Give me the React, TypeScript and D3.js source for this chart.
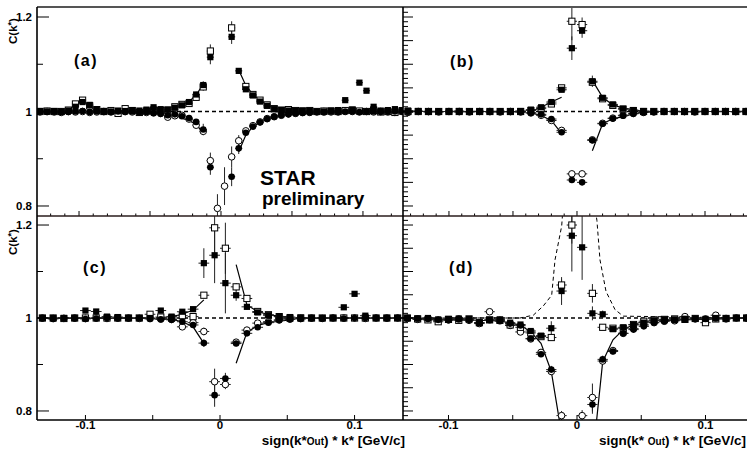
import React from "react";
import * as d3 from "d3";

const FONT = "'Liberation Sans', Arial, Helvetica, sans-serif";

// bin centres: panel (a) uses 5 MeV bins, the other panels 8 MeV bins
const fineBins = [
  -0.1275, -0.1225, -0.1175, -0.1125, -0.1075, -0.1025, -0.0975, -0.0925, -0.0875, -0.0825,
  -0.0775, -0.0725, -0.0675, -0.0625, -0.0575, -0.0525, -0.0475, -0.0425, -0.0375, -0.0325,
  -0.0275, -0.0225, -0.0175, -0.0125, -0.0075, -0.0025, 0.0025, 0.0075, 0.0125, 0.0175,
  0.0225, 0.0275, 0.0325, 0.0375, 0.0425, 0.0475, 0.0525, 0.0575, 0.0625, 0.0675,
  0.0725, 0.0775, 0.0825, 0.0875, 0.0925, 0.0975, 0.1025, 0.1075, 0.1125, 0.1175,
  0.1225, 0.1275,
];
const wideBins = [
  -0.132, -0.124, -0.116, -0.108, -0.1, -0.092, -0.084, -0.076, -0.068, -0.06,
  -0.052, -0.044, -0.036, -0.028, -0.02, -0.012, -0.004, 0.004, 0.012, 0.02,
  0.028, 0.036, 0.044, 0.052, 0.06, 0.068, 0.076, 0.084, 0.092, 0.1,
  0.108, 0.116, 0.124, 0.132,
];

const yTickLabels = [0.8, 1, 1.2];
const xTickLabels = [-0.1, 0, 0.1];

// ---- panel (a) ----
const aSqFilled = [
  1.001, 1.0, 1.001, 1.0, 1.002, 1.01, 1.02, 1.014, 1.003, 1.001,
  1.0, 1.002, 1.001, 1.003, 1.002, 1.004, 1.009, 1.005, 1.004, 1.008,
  1.013, 1.02, 1.036, 1.056, 1.115, null, null, 1.158, 1.086, 1.047,
  1.034, 1.021, 1.012, 1.005, 1.003, 1.002, 1.001, 1.002, 1.001, 1.0,
  1.0, 1.002, 1.003, 1.024, 1.004, 1.061, 1.044, 1.01, 1.002, 1.003,
  1.005, 1.003,
];
const aSqOpen = [
  1.0, 1.001, 1.0, 1.0, 1.003, 1.016, 1.024, 1.012, 1.004, 1.0,
  1.002, 0.996, 1.006, 1.002, 0.998, 1.001, 1.003, 1.002, 1.003, 1.01,
  1.015, 1.017, 1.03, 1.052, 1.128, null, null, 1.177, null, 1.053,
  1.036, 1.024, 1.014, 1.006, 1.003, 1.004, 1.002, 1.001, 1.002, 1.0,
  1.001, 1.001, 1.0, 1.002, 1.003, 1.001, 1.0, 1.002, 0.999, 1.0,
  0.998, 1.001,
];
const aCircFilled = [
  1.0, 0.999, 1.0, 0.999, 0.999, 1.0, 1.001, 0.999, 1.0, 0.999,
  0.999, 1.0, 0.999, 1.0, 0.998, 0.999, 0.997, 0.995, 0.992, 0.994,
  0.99, 0.986, 0.978, 0.962, 0.882, null, null, 0.862, 0.922, 0.955,
  0.968, 0.977, 0.984, 0.989, 0.992, 0.994, 0.996, 0.997, 0.998, 0.999,
  0.998, 1.0, 0.999, 1.0, 1.0, 0.999, 1.0, 1.0, 0.999, 1.0,
  1.0, 1.0,
];
const aCircOpen = [
  0.999, 1.0, 0.999, 0.998, 1.0, 0.999, 1.0, 0.998, 0.999, 1.0,
  0.999, 0.998, 1.0, 0.999, 0.999, 0.998, 0.997, 0.996, 0.988, 0.991,
  0.992, 0.984, 0.971, 0.958, 0.896, 0.795, 0.842, 0.904, 0.938, 0.959,
  0.97, 0.978, 0.985, 0.989, 0.992, 0.995, 0.996, 0.998, 0.998, 0.999,
  1.0, 0.999, 0.999, 1.0, 1.0, 0.999, 1.0, 0.999, 1.0, 0.999,
  0.998, 1.0,
];
// errors for bins 18..33
const aSqFilledErr = [0.003, 0.004, 0.004, 0.005, 0.006, 0.008, 0.015, 0, 0, 0.015, 0.006, 0.005, 0.004, 0.004, 0.003, 0.003];
const aSqOpenErr = [0.003, 0.004, 0.004, 0.005, 0.006, 0.008, 0.014, 0, 0, 0.014, 0, 0.005, 0.004, 0.004, 0.003, 0.003];
const aCircFilledErr = [0.003, 0.004, 0.004, 0.005, 0.006, 0.012, 0.016, 0, 0, 0.02, 0.012, 0.006, 0.005, 0.004, 0.003, 0.003];
const aCircOpenErr = [0.003, 0.004, 0.004, 0.005, 0.006, 0.008, 0.017, 0.03, 0.04, 0.022, 0.012, 0.006, 0.005, 0.004, 0.003, 0.003];
const aFitUpL = [[-0.0325, 1.008], [-0.0275, 1.014], [-0.0225, 1.021], [-0.0175, 1.035], [-0.0125, 1.058]];
const aFitUpR = [[0.0125, 1.088], [0.0175, 1.055], [0.0225, 1.036], [0.0275, 1.024], [0.0325, 1.015], [0.0375, 1.007], [0.0425, 1.004]];
const aFitLoL = [[-0.0325, 0.9926], [-0.0275, 0.9856], [-0.0225, 0.9805], [-0.0175, 0.973], [-0.0125, 0.954]];
const aFitLoR = [[0.0125, 0.915], [0.0175, 0.95], [0.0225, 0.968], [0.0275, 0.978], [0.0325, 0.9856], [0.0375, 0.99], [0.0425, 0.992]];

// ---- panel (b) ----
const bSqFilled = [
  1.002, 1.001, 1.0, 1.0, 1.0, 1.001, 1.0, 1.0, 1.0, 1.0,
  1.0, 1.001, 1.004, 1.009, 1.02, 1.046, 1.134, 1.171, 1.064, 1.029,
  1.015, 1.006, 1.003, 1.001, 1.0, 1.0, 1.0, 1.0, 1.0, 1.0,
  1.0, 1.0, 1.0, 1.0,
];
const bSqOpen = [
  1.0, 1.0, 1.0, 1.0, 1.0, 1.0, 1.0, 1.0, 1.0, 1.0,
  1.0, 1.0, 1.002, 1.006, 1.016, 1.05, 1.191, 1.184, 1.062, 1.027,
  1.013, 1.005, 1.002, 1.0, 1.0, 1.0, 1.0, 1.0, 1.0, 1.0,
  1.0, 1.0, 1.0, 1.0,
];
const bCircFilled = [
  1.0, 1.0, 0.999, 1.0, 1.0, 0.999, 1.0, 1.0, 0.999, 1.0,
  0.999, 0.999, 0.997, 0.994, 0.984, 0.956, 0.855, 0.85, 0.939, 0.974,
  0.985, 0.991, 0.995, 0.998, 0.999, 1.0, 1.0, 0.999, 1.0, 1.0,
  1.0, 1.0, 0.999, 1.0,
];
const bCircOpen = [
  0.998, 1.0, 1.0, 0.999, 1.0, 1.0, 0.999, 1.0, 1.0, 0.999,
  1.0, 0.999, 0.997, 0.992, 0.981, 0.96, 0.868, 0.868, 0.94, 0.975,
  0.986, 0.992, 0.996, 0.998, 0.999, 1.0, 1.0, 1.0, 0.999, 1.0,
  1.0, 1.0, 1.0, 1.0,
];
// errors for bins 12..21
const bSqFilledErr = [0.003, 0.003, 0.004, 0.005, 0.025, 0.015, 0.012, 0.005, 0.004, 0.003];
const bSqOpenErr = [0.003, 0.003, 0.004, 0.005, 0.04, 0.015, 0.006, 0.004, 0.003, 0.003];
const bCircFilledErr = [0.003, 0.003, 0.004, 0.006, 0.006, 0.006, 0.006, 0.004, 0.003, 0.003];
const bCircOpenErr = [0.003, 0.003, 0.004, 0.005, 0.006, 0.006, 0.005, 0.004, 0.003, 0.003];
const bFitUpL = [[-0.036, 1.0], [-0.028, 1.009], [-0.02, 1.02], [-0.012, 1.03]];
const bFitUpR = [[0.012, 1.066], [0.02, 1.03], [0.028, 1.014], [0.036, 1.007], [0.044, 1.004], [0.052, 1.0]];
const bFitLoL = [[-0.036, 0.997], [-0.028, 0.9915], [-0.02, 0.981], [-0.012, 0.953]];
const bFitLoR = [[0.012, 0.917], [0.02, 0.974], [0.028, 0.9845], [0.036, 0.989], [0.044, 0.995], [0.052, 0.998]];

// ---- panel (c) ----
const cSqFilled = [
  1.0, 1.0, 1.0, 1.0, 1.016, 1.014, 1.003, 1.002, 1.0, 1.0,
  1.0, 1.016, 1.003, 1.0135, 1.019, 1.118, 1.135, 1.075, 1.049, 1.024,
  1.012, 1.006, 1.003, 1.002, 1.001, 1.0, 1.0, 1.0, 1.023, 1.052,
  1.005, 1.0, 1.0, 1.0,
];
const cSqOpen = [
  1.0, 1.0, 0.999, 1.0, 1.0, 1.0, 1.0, 1.0, 1.0, 1.0,
  1.008, 1.002, 1.0, 1.005, 1.003, 1.049, 1.194, 1.15, 1.067, 1.042,
  1.014, 1.007, 1.003, 1.0, 1.0, 1.0, 1.0, 1.0, 1.0, 1.0,
  1.0, 1.0, 1.0, 1.0,
];
const cCircFilled = [
  0.999, 0.998, 1.0, 0.999, 0.998, 0.999, 1.0, 0.999, 0.999, 1.0,
  0.998, 0.997, 0.996, 0.992, 0.985, 0.946, 0.834, 0.87, 0.945, 0.967,
  0.98, 0.99, 0.995, 0.997, 0.998, 0.999, 0.999, 1.0, 0.999, 1.0,
  1.0, 1.0, 0.999, 1.0,
];
const cCircOpen = [
  1.0, 0.999, 0.999, 1.0, 0.999, 1.0, 0.999, 1.0, 1.0, 0.999,
  0.999, 0.998, 0.997, 0.981, 0.99, 0.971, 0.863, 0.857, 0.948, 0.974,
  0.989, 0.992, 0.996, 0.998, 0.999, 1.0, 0.999, 1.0, 1.0, 1.0,
  0.999, 1.0, 1.0, 1.0,
];
const cSqFilledErr = [0.003, 0.004, 0.005, 0.032, 0.06, 0.065, 0.012, 0.006, 0.004, 0.003];
const cSqOpenErr = [0.003, 0.004, 0.005, 0.006, 0.07, 0.055, 0.008, 0.005, 0.004, 0.003];
const cCircFilledErr = [0.003, 0.004, 0.005, 0.008, 0.025, 0.012, 0.006, 0.005, 0.004, 0.003];
const cCircOpenErr = [0.003, 0.004, 0.005, 0.008, 0.028, 0.01, 0.006, 0.005, 0.004, 0.003];
const cFitUpL = [[-0.036, 1.003], [-0.028, 1.008], [-0.02, 1.017], [-0.012, 1.039]];
const cFitUpR = [[0.012, 1.115], [0.02, 1.028], [0.028, 1.014], [0.036, 1.007], [0.044, 1.004], [0.052, 1.002]];
const cFitLoL = [[-0.036, 0.997], [-0.028, 0.992], [-0.02, 0.981], [-0.012, 0.9455]];
const cFitLoR = [[0.012, 0.9026], [0.02, 0.969], [0.028, 0.984], [0.036, 0.99], [0.044, 0.993], [0.052, 0.996]];

// ---- panel (d) ----
const dSqFilled = [
  1.0, 0.999, 1.0, 0.997, 0.998, 0.999, 0.998, 0.989, 0.996, 0.997,
  0.99, 0.986, 0.972, 0.962, 0.978, 1.058, 1.177, 1.152, 1.01, 1.008,
  0.976, 0.98, 0.985, 0.99, 0.995, 0.997, 0.997, 0.998, 0.999, 0.998,
  1.0, 0.999, 1.0, 1.0,
];
const dSqOpen = [
  1.0, 0.998, 0.996, 0.992, 0.997, 0.995, 0.998, 0.99, 0.996, 0.995,
  0.985, 0.98, 0.968, 0.96, 0.958, 1.071, 1.2, null, 1.053, 0.98,
  0.978, 0.978, 0.986, 0.993, 0.996, 0.997, 0.998, 0.997, 0.999, 0.99,
  0.998, 0.999, 1.0, 1.0,
];
const dCircFilled = [
  1.0, 0.999, 0.998, 0.996, 0.995, 0.997, 0.996, 0.99, 0.995, 0.993,
  0.988, 0.984, 0.956, 0.922, 0.889, null, null, null, 0.814, 0.911,
  0.928, 0.967, 0.975, 0.982, 0.99, 0.993, 0.995, 0.997, 0.998, 0.998,
  0.999, 1.0, 1.0, 0.999,
];
const dCircOpen = [
  0.999, 0.997, 0.997, 0.995, 0.996, 0.998, 0.995, 0.988, 1.0135, 0.995,
  0.984, 0.97, 0.955, 0.926, 0.885, 0.79, null, 0.79, 0.829, 0.9075,
  0.93, 0.967, 0.977, 0.985, 0.99, 0.993, 0.994, 1.003, 0.998, 0.998,
  1.006, 0.998, 1.0, 1.0,
];
const dSqFilledErr = [0.004, 0.005, 0.015, 0.03, 0.077, 0.07, 0.015, 0.008, 0.005, 0.004];
const dSqOpenErr = [0.004, 0.005, 0.006, 0.012, 0.04, 0, 0.02, 0.006, 0.005, 0.004];
const dCircFilledErr = [0.004, 0.006, 0.008, 0, 0, 0, 0.02, 0.008, 0.006, 0.005];
const dCircOpenErr = [0.004, 0.006, 0.008, 0.01, 0, 0.012, 0.03, 0.008, 0.006, 0.005];
const dFitSolid = [
  [-0.132, 1.0], [-0.06, 0.9935], [-0.044, 0.985], [-0.036, 0.97], [-0.028, 0.9455],
  [-0.02, 0.885], [-0.012, 0.751], [0.012, 0.693], [0.02, 0.906], [0.028, 0.953],
  [0.036, 0.975], [0.044, 0.986], [0.052, 0.993], [0.132, 1.0],
];
const dFitDashed = [
  [-0.132, 1.0], [-0.0444, 1.0], [-0.034, 1.006], [-0.0262, 1.026], [-0.0197, 1.049],
  [-0.0171, 1.125], [-0.0119, 1.198], [-0.008, 1.35], [0.008, 1.35], [0.0155, 1.21],
  [0.0179, 1.125], [0.0226, 1.057], [0.0296, 1.018], [0.036, 1.004], [0.132, 1.0],
];

type Kind = "fsq" | "osq" | "fci" | "oci";
type Series = { kind: Kind; ys: (number | null)[]; errs: number[] };
type Panel = {
  id: string;
  label: string;
  labelPos: [number, number];
  box: [number, number, number, number];
  xDomain: [number, number];
  yDomain: [number, number];
  bins: number[];
  halfBin: number;
  errStart: number;
  series: Series[];
  fits: { pts: number[][]; dashed?: boolean }[];
  fineY: boolean;
  xMinor: boolean;
};

const panels: Panel[] = [
  {
    id: "a", label: "(a)", labelPos: [74, 66], box: [37, 7, 403, 216],
    xDomain: [-0.1296, 0.1282], yDomain: [0.7788, 1.2212],
    bins: fineBins, halfBin: 0.0025, errStart: 18,
    series: [
      { kind: "oci", ys: aCircOpen, errs: aCircOpenErr },
      { kind: "osq", ys: aSqOpen, errs: aSqOpenErr },
      { kind: "fci", ys: aCircFilled, errs: aCircFilledErr },
      { kind: "fsq", ys: aSqFilled, errs: aSqFilledErr },
    ],
    fits: [{ pts: aFitUpL }, { pts: aFitUpR }, { pts: aFitLoL }, { pts: aFitLoR }],
    fineY: false, xMinor: true,
  },
  {
    id: "b", label: "(b)", labelPos: [450, 67], box: [403, 7, 747, 216],
    xDomain: [-0.1359, 0.1328], yDomain: [0.7788, 1.2212],
    bins: wideBins, halfBin: 0.004, errStart: 12,
    series: [
      { kind: "oci", ys: bCircOpen, errs: bCircOpenErr },
      { kind: "osq", ys: bSqOpen, errs: bSqOpenErr },
      { kind: "fci", ys: bCircFilled, errs: bCircFilledErr },
      { kind: "fsq", ys: bSqFilled, errs: bSqFilledErr },
    ],
    fits: [{ pts: bFitUpL }, { pts: bFitUpR }, { pts: bFitLoL }, { pts: bFitLoR }],
    fineY: true, xMinor: true,
  },
  {
    id: "c", label: "(c)", labelPos: [83, 273], box: [37, 216, 403, 420],
    xDomain: [-0.136, 0.136], yDomain: [0.7806, 1.2194],
    bins: wideBins, halfBin: 0.004, errStart: 12,
    series: [
      { kind: "oci", ys: cCircOpen, errs: cCircOpenErr },
      { kind: "osq", ys: cSqOpen, errs: cSqOpenErr },
      { kind: "fci", ys: cCircFilled, errs: cCircFilledErr },
      { kind: "fsq", ys: cSqFilled, errs: cSqFilledErr },
    ],
    fits: [{ pts: cFitUpL }, { pts: cFitUpR }, { pts: cFitLoL }, { pts: cFitLoR }],
    fineY: false, xMinor: false,
  },
  {
    id: "d", label: "(d)", labelPos: [449, 273], box: [403, 216, 747, 420],
    xDomain: [-0.1354, 0.1323], yDomain: [0.7806, 1.2194],
    bins: wideBins, halfBin: 0.004, errStart: 12,
    series: [
      { kind: "oci", ys: dCircOpen, errs: dCircOpenErr },
      { kind: "osq", ys: dSqOpen, errs: dSqOpenErr },
      { kind: "fci", ys: dCircFilled, errs: dCircFilledErr },
      { kind: "fsq", ys: dSqFilled, errs: dSqFilledErr },
    ],
    fits: [{ pts: dFitSolid }, { pts: dFitDashed, dashed: true }],
    fineY: true, xMinor: false,
  },
];

const marker = (kind: Kind, cx: number, cy: number, key: string) => {
  const s = 6.2;
  const r = 3.3;
  if (kind === "fsq")
    return <rect key={key} x={cx - s / 2} y={cy - s / 2} width={s} height={s} fill="#000" />;
  if (kind === "osq")
    return <rect key={key} x={cx - s / 2} y={cy - s / 2} width={s} height={s} fill="#fff" stroke="#000" strokeWidth={1} />;
  if (kind === "fci") return <circle key={key} cx={cx} cy={cy} r={r} fill="#000" />;
  return <circle key={key} cx={cx} cy={cy} r={r} fill="#fff" stroke="#000" strokeWidth={1} />;
};

const PanelView = ({ p }: { p: Panel }) => {
  const [left, top, right, bottom] = p.box;
  const x = d3.scaleLinear().domain(p.xDomain).range([left, right]);
  const y = d3.scaleLinear().domain(p.yDomain).range([bottom, top]);
  const line = d3
    .line<number[]>()
    .x((d) => x(d[0]))
    .y((d) => y(d[1]));

  const errOf = (s: Series, i: number) => {
    const k = i - p.errStart;
    return k >= 0 && k < s.errs.length ? s.errs[k] : 0;
  };

  // tick marks
  const yTicks = p.fineY
    ? d3.range(79, 123).map((v) => v / 100)
    : [0.8, 0.9, 1, 1.1, 1.2];
  const xTicks = p.xMinor ? d3.range(-13, 14).map((v) => v / 100) : [-0.1, -0.05, 0, 0.05, 0.1];

  return (
    <g>
      <defs>
        <clipPath id={"clip-" + p.id}>
          <rect x={left} y={top} width={right - left} height={bottom - top} />
        </clipPath>
      </defs>
      <g clipPath={`url(#clip-${p.id})`}>
        <line x1={left} x2={right} y1={y(1)} y2={y(1)} stroke="#000" strokeWidth={1.3} strokeDasharray="4,3" />
        {p.fits.map((f, i) => (
          <path key={"f" + i} d={line(f.pts) || ""} fill="none" stroke="#000" strokeWidth={f.dashed ? 1 : 1.2} strokeDasharray={f.dashed ? "4,3" : undefined} />
        ))}
        {p.series.map((s, si) =>
          s.ys.map((v, i) => {
            if (v == null) return null;
            const e = errOf(s, i);
            const cx = x(p.bins[i]);
            return (
              <g key={`e${si}-${i}`} stroke="#222" strokeWidth={1}>
                <line x1={x(p.bins[i] - p.halfBin)} x2={x(p.bins[i] + p.halfBin)} y1={y(v)} y2={y(v)} />
                {e > 0 && <line x1={cx} x2={cx} y1={y(v - e)} y2={y(v + e)} />}
              </g>
            );
          })
        )}
        {p.series.map((s, si) =>
          s.ys.map((v, i) => (v == null ? null : marker(s.kind, x(p.bins[i]), y(v), `m${si}-${i}`)))
        )}
      </g>
      {yTicks.map((t) => {
        const major = p.fineY ? Math.round(t * 100) % 5 === 0 : Math.round(t * 10) % 2 === 0;
        const len = p.fineY ? (major ? 10 : 5) : major ? 12 : 6;
        if (y(t) < top || y(t) > bottom) return null;
        return <line key={"yt" + t} x1={left} x2={left + len} y1={y(t)} y2={y(t)} stroke="#000" strokeWidth={1} />;
      })}
      {xTicks.map((t) => {
        const major = Math.round(t * 100) % 5 === 0;
        const len = major ? 5 : 2.5;
        if (x(t) <= left + 1 || x(t) > right) return null;
        return <line key={"xt" + t} x1={x(t)} x2={x(t)} y1={bottom} y2={bottom - len} stroke="#000" strokeWidth={1} />;
      })}
      {!p.fineY &&
        yTickLabels.map((t) => (
          <text key={"yl" + t} x={left - 5} y={y(t)} dy="0.36em" textAnchor="end" fontSize={11.5} fontWeight="bold" fontFamily={FONT}>
            {t === 1 ? "1" : t.toFixed(1)}
          </text>
        ))}
      {p.id === "c" || p.id === "d"
        ? xTickLabels.map((t) => (
            <text key={"xl" + t} x={x(t)} y={429} textAnchor="middle" fontSize={11.5} fontWeight="bold" fontFamily={FONT}>
              {t === 0 ? "0" : t.toFixed(1)}
            </text>
          ))
        : null}
      <text x={p.labelPos[0]} y={p.labelPos[1]} fontSize={16} fontWeight="bold" fontFamily={FONT} letterSpacing={1.5}>
        {p.label}
      </text>
    </g>
  );
};

const App = () => {
  return (
    <svg width={747} height={449} style={{ position: "absolute", left: 0, top: 0, background: "#fff" }}>
      <rect x={0} y={0} width={747} height={449} fill="#fff" />
      {panels.map((p) => (
        <PanelView key={p.id} p={p} />
      ))}
      {/* frame */}
      <line x1={37} x2={747} y1={7} y2={7} stroke="#555" strokeWidth={2} />
      <line x1={37} x2={747} y1={216} y2={216} stroke="#2a1c1c" strokeWidth={1.6} />
      <line x1={37} x2={747} y1={420} y2={420} stroke="#000" strokeWidth={1.6} />
      <line x1={37} x2={37} y1={7} y2={420} stroke="#000" strokeWidth={1.6} />
      <line x1={403} x2={403} y1={7} y2={420} stroke="#000" strokeWidth={1.6} />

      {[31, 242].map((cy) => (
        <text key={cy} transform={`translate(17,${cy}) rotate(-90)`} textAnchor="middle" fontSize={11.5} fontWeight="bold" fontFamily={FONT}>
          C(k<tspan dy={-3} fontSize={9}>*</tspan><tspan dy={3}>)</tspan>
        </text>
      ))}

      <text x={260} y={185} fontSize={21} fontWeight="bold" fontFamily={FONT}>STAR</text>
      <text x={262} y={205} fontSize={19} fontWeight="bold" fontFamily={FONT}>preliminary</text>

      <text x={405} y={445} textAnchor="end" fontSize={13.5} fontWeight="bold" fontFamily={FONT}>
        sign(k*<tspan fontSize={10}>Out</tspan>) * k* [GeV/c]
      </text>
      <text x={746} y={445} textAnchor="end" fontSize={13.5} fontWeight="bold" fontFamily={FONT}>
        sign(k* <tspan fontSize={10}>Out</tspan>) * k* [GeV/c]
      </text>
    </svg>
  );
};

export default App;
